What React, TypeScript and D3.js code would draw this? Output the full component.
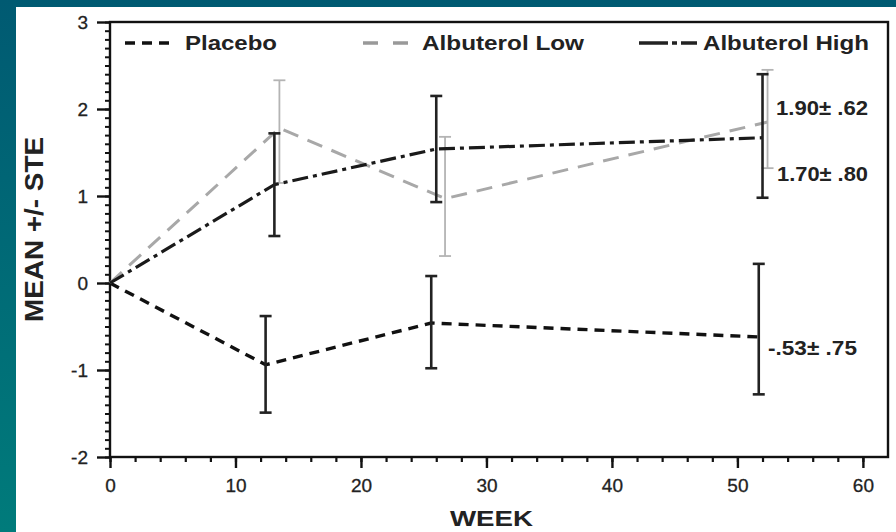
import { useEffect, useRef } from "react";
import * as d3 from "d3";

// weeks, means and error bar ends
const placeboWeeks = [0, 12.4, 25.6, 51.7];
const placeboMean = [0, -0.94, -0.46, -0.62];
const placeboUpper = [0, -0.38, 0.08, 0.22];
const placeboLower = [0, -1.49, -0.98, -1.28];

const lowWeeks = [0, 13.5, 26.7, 52.4];
const lowMean = [0, 1.78, 0.97, 1.85];
const lowUpper = [0, 2.33, 1.68, 2.45];
const lowLower = [0, 1.15, 0.31, 1.32];

const highWeeks = [0, 13.1, 26.0, 52.0];
const highMean = [0, 1.13, 1.54, 1.67];
const highUpper = [0, 1.72, 2.15, 2.4];
const highLower = [0, 0.54, 0.93, 0.98];

const xTicks = [0, 10, 20, 30, 40, 50, 60];
const yTicks = [-2, -1, 0, 1, 2, 3];

const seriesNames = ["Placebo", "Albuterol Low", "Albuterol High"];
const annotations = ["1.90\u00B1 .62", "1.70\u00B1 .80", "-.53\u00B1 .75"];
const annotationValues = [2.02, 1.27, -0.74];

const W = 896;
const H = 532;
const margin = { top: 22, right: 8, bottom: 75, left: 110 };
const font = "'Liberation Sans', Arial, sans-serif";

const App = () => {
  const svgRef = useRef<SVGSVGElement>(null);

  useEffect(() => {
    const svg = d3.select(svgRef.current);
    svg.selectAll("*").remove();

    const grad = svg.append("defs").append("linearGradient")
      .attr("id", "bg").attr("x1", 0).attr("y1", 0).attr("x2", 0).attr("y2", 1);
    grad.append("stop").attr("offset", "0%").attr("stop-color", "#005a72");
    grad.append("stop").attr("offset", "100%").attr("stop-color", "#007b7b");

    svg.append("rect").attr("width", W).attr("height", H).attr("fill", "url(#bg)");
    svg.append("rect").attr("x", 16).attr("y", 7).attr("width", W - 16).attr("height", H - 7)
      .attr("fill", "#fff");

    const x = d3.scaleLinear().domain([0, 62]).range([margin.left, W - margin.right]);
    const y = d3.scaleLinear().domain([-2, 3]).range([H - margin.bottom, margin.top]);
    const fmt = (d: number) => String(d); // plain hyphen, like the scan

    // frame
    svg.append("rect")
      .attr("x", x(0)).attr("y", y(3))
      .attr("width", x(62) - x(0)).attr("height", y(-2) - y(3))
      .attr("fill", "none").attr("stroke", "#111").attr("stroke-width", 2.4);

    // minor ticks
    svg.append("g")
      .attr("transform", `translate(0,${y(-2)})`)
      .call(d3.axisBottom(x).tickValues(d3.range(0, 62, 2)).tickSize(5).tickFormat(() => ""))
      .call(g => g.select(".domain").remove())
      .call(g => g.selectAll("line").attr("stroke", "#111").attr("stroke-width", 2.2));
    svg.append("g")
      .attr("transform", `translate(${x(0)},0)`)
      .call(d3.axisLeft(y).tickValues(d3.range(-20, 31).map(d => d / 10)).tickSize(5).tickFormat(() => ""))
      .call(g => g.select(".domain").remove())
      .call(g => g.selectAll("line").attr("stroke", "#111").attr("stroke-width", 2));

    // major ticks + labels
    svg.append("g")
      .attr("transform", `translate(0,${y(-2)})`)
      .call(d3.axisBottom(x).tickValues(xTicks).tickSize(11).tickPadding(11).tickFormat(fmt as any))
      .call(g => g.select(".domain").remove())
      .call(g => g.selectAll("line").attr("stroke", "#111").attr("stroke-width", 2.4))
      .call(g => g.selectAll("text").attr("font-family", font).attr("font-size", 19).attr("fill", "#222")
        .attr("stroke", "#222").attr("stroke-width", 0.3));
    svg.append("g")
      .attr("transform", `translate(${x(0)},0)`)
      .call(d3.axisLeft(y).tickValues(yTicks).tickSize(13).tickPadding(9).tickFormat(fmt as any))
      .call(g => g.select(".domain").remove())
      .call(g => g.selectAll("line").attr("stroke", "#111").attr("stroke-width", 2.4))
      .call(g => g.selectAll("text").attr("font-family", font).attr("font-size", 19).attr("fill", "#222")
        .attr("stroke", "#222").attr("stroke-width", 0.3));

    svg.append("text")
      .attr("x", 450).attr("y", 526)
      .attr("textLength", 83).attr("lengthAdjust", "spacingAndGlyphs")
      .attr("font-family", font).attr("font-weight", "bold").attr("font-size", 22).attr("fill", "#222")
      .text("WEEK");
    svg.append("text")
      .attr("transform", `translate(43,322) rotate(-90)`)
      .attr("textLength", 185).attr("lengthAdjust", "spacingAndGlyphs")
      .attr("font-family", font).attr("font-weight", "bold").attr("font-size", 25).attr("fill", "#222")
      .text("MEAN +/- STE");

    const series = [
      { weeks: placeboWeeks, mean: placeboMean, upper: placeboUpper, lower: placeboLower,
        color: "#111", dash: "10,7", width: 3.4, errColor: "#222", errWidth: 2.6,
        legendDash: "10,7", legendColor: "#111" },
      { weeks: lowWeeks, mean: lowMean, upper: lowUpper, lower: lowLower,
        color: "#a8a8a8", dash: "16,10", width: 3, errColor: "#b4b4b4", errWidth: 1.8,
        legendDash: "15,15", legendColor: "#999" },
      { weeks: highWeeks, mean: highMean, upper: highUpper, lower: highLower,
        color: "#1a1a1a", dash: "16,5,4,5", width: 3.2, errColor: "#222", errWidth: 2.6,
        legendDash: "29,4,5,4,16", legendColor: "#222" },
    ];

    series.forEach(s => {
      const pts = s.weeks.map((w, i) => [w, s.mean[i]] as [number, number]);
      svg.append("path")
        .attr("d", d3.line<[number, number]>().x(d => x(d[0])).y(d => y(d[1]))(pts))
        .attr("fill", "none").attr("stroke", s.color).attr("stroke-width", s.width)
        .attr("stroke-dasharray", s.dash);

      const eb = svg.append("g").attr("stroke", s.errColor).attr("stroke-width", s.errWidth);
      s.weeks.forEach((w, i) => {
        if (i === 0) return;
        eb.append("line").attr("x1", x(w)).attr("x2", x(w)).attr("y1", y(s.upper[i])).attr("y2", y(s.lower[i]));
        [s.upper[i], s.lower[i]].forEach(v => {
          eb.append("line").attr("x1", x(w) - 6).attr("x2", x(w) + 6).attr("y1", y(v)).attr("y2", y(v));
        });
      });
    });

    // legend
    const legendX = [125, 363, 639];
    const legendLen = [48, 49, 58];
    const textX = [185, 422, 703];
    const textLen = [92, 162, 166];
    series.forEach((s, i) => {
      svg.append("line")
        .attr("x1", legendX[i]).attr("x2", legendX[i] + legendLen[i]).attr("y1", 43).attr("y2", 43)
        .attr("stroke", s.legendColor).attr("stroke-width", 3.4).attr("stroke-dasharray", s.legendDash);
      svg.append("text")
        .attr("x", textX[i]).attr("y", 50)
        .attr("textLength", textLen[i]).attr("lengthAdjust", "spacingAndGlyphs")
        .attr("font-family", font).attr("font-weight", "bold").attr("font-size", 21).attr("fill", "#222")
        .text(seriesNames[i]);
    });

    // value annotations at week 52
    const annX = [776, 777, 768];
    const annLen = [92, 91, 89];
    annotations.forEach((t, i) => {
      svg.append("text")
        .attr("x", annX[i]).attr("y", y(annotationValues[i]) + 8)
        .attr("textLength", annLen[i]).attr("lengthAdjust", "spacingAndGlyphs")
        .attr("font-family", font).attr("font-weight", "bold").attr("font-size", 21).attr("fill", "#222")
        .text(t);
    });
  }, []);

  return <svg ref={svgRef} width={W} height={H} style={{ position: "absolute", left: 0, top: 0 }}></svg>;
};

export default App;
